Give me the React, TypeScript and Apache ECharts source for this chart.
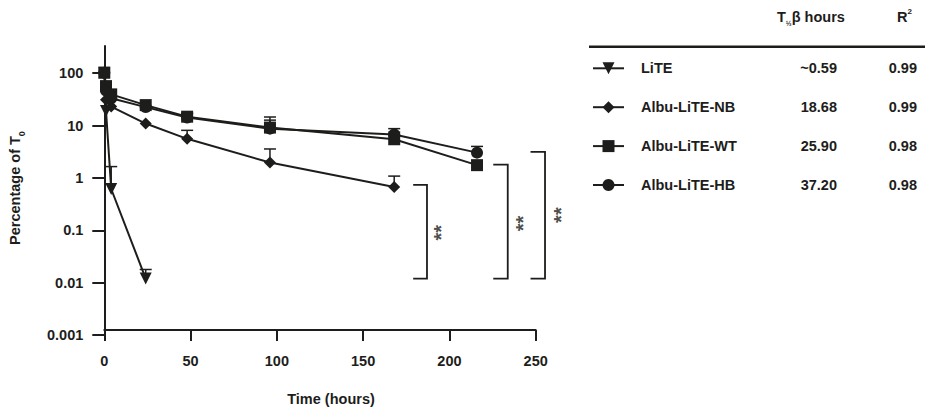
import React, { useEffect, useRef } from 'react';
import * as echarts from 'echarts';

const INK = '#1d1d1b';
const FONT = '"Liberation Sans", Arial, Helvetica, sans-serif';
const FS = 14.5;

// ---- data ----
const seriesNames = ['LiTE', 'Albu-LiTE-NB', 'Albu-LiTE-WT', 'Albu-LiTE-HB'];
const seriesSymbols = ['triangle', 'diamond', 'rect', 'circle'];
const seriesSymbolRotate = [180, 0, 0, 0];

const timeLiTE = [0, 1, 4, 24];
const timeNB = [0, 1, 4, 24, 48, 96, 168];
const timeLong = [0, 1, 4, 24, 48, 96, 168, 216];

const valuesLiTE = [100, 18, 0.55, 0.01];
const valuesNB = [100, 30, 22, 10.3, 5.2, 1.8, 0.6];
const valuesWT = [100, 55, 38, 23.5, 14, 8.6, 5.1, 1.6];
const valuesHB = [100, 45, 32, 21.5, 13.5, 8.2, 6.3, 2.8];

// upper end of error bars (null = none drawn)
const upperLiTE = [null, null, 1.5, 0.015];
const upperNB = [null, null, null, null, 7.6, 3.3, 0.98];
const upperWT = [null, null, null, null, 16, 12, 7, null];
const upperHB = [null, null, null, null, 16.5, 13.8, 8.2, 3.7];

const halfLives = ['~0.59', '18.68', '25.90', '37.20'];
const rSquared = ['0.99', '0.99', '0.98', '0.98'];

const xMin = 0;
const xMax = 250;
const xInterval = 50;
const yMin = 0.001;
const yTickMax = 100;
const yAxisTopExp = 2.52; // axis line runs a little above 100

// significance brackets (hours) and their value span
const bracketX0 = [179, 225.4, 247];
const bracketX1 = [187, 233.8, 255.4];
const bracketTop = [0.66, 1.64, 2.9];
const bracketBottom = [0.01, 0.01, 0.01];
const starX = [195, 242.6, 264.4];
const starY = [0.078, 0.117, 0.171];
const starText = '**';

// ---- layout ----
const GRID_LEFT = 104.3;
const GRID_TOP = 46;
const GRID_BOTTOM_Y = 335;
const GRID_WIDTH = 431.4;
const GRID_HEIGHT = GRID_BOTTOM_Y - GRID_TOP;
const decadePx = GRID_HEIGHT / (yAxisTopExp - Math.log10(yMin));
const tickGridTop = GRID_TOP + (yAxisTopExp - Math.log10(yTickMax)) * decadePx;

const LEG_LEFT = 592;
const LEG_TOP = 60.8;
const LEG_ITEM_H = 15;
const LEG_GAP = 23.9;

function pairs(times: number[], vals: number[]) {
  return times.map((t, i) => [t, vals[i]]);
}
function errData(times: number[], vals: number[], up: (number | null)[]) {
  const out: number[][] = [];
  times.forEach((t, i) => {
    if (up[i] != null) out.push([t, vals[i], up[i] as number]);
  });
  return out;
}

export default function App() {
  const ref = useRef<HTMLDivElement>(null);
  useEffect(() => {
    if (!ref.current) return;
    const chart = echarts.init(ref.current, undefined, { renderer: 'svg' });

    const lineData = [
      pairs(timeLiTE, valuesLiTE),
      pairs(timeNB, valuesNB),
      pairs(timeLong, valuesWT),
      pairs(timeLong, valuesHB),
    ];
    const errs = [
      errData(timeLiTE, valuesLiTE, upperLiTE),
      errData(timeNB, valuesNB, upperNB),
      errData(timeLong, valuesWT, upperWT),
      errData(timeLong, valuesHB, upperHB),
    ];

    const textBase = { fontFamily: FONT, fontWeight: 'bold' as const, fontSize: FS, color: INK };

    const series: any[] = [];
    errs.forEach((d, i) => {
      series.push({
        type: 'custom',
        name: 'err' + i,
        xAxisIndex: 0,
        yAxisIndex: 0,
        z: 1,
        silent: true,
        data: d,
        encode: { x: 0, y: [1, 2] },
        renderItem: (params: any, api: any) => {
          const x = api.value(0);
          const lo = api.value(1);
          const hi = api.value(2);
          const a = api.coord([x, lo]);
          const b = api.coord([x, hi]);
          const style = { stroke: INK, lineWidth: 1.5 };
          return {
            type: 'group',
            children: [
              { type: 'line', shape: { x1: a[0], y1: a[1], x2: b[0], y2: b[1] }, style },
              { type: 'line', shape: { x1: b[0] - 6, y1: b[1], x2: b[0] + 6, y2: b[1] }, style },
            ],
          };
        },
      });
    });
    lineData.forEach((d, i) => {
      series.push({
        type: 'line',
        name: seriesNames[i],
        xAxisIndex: 0,
        yAxisIndex: 0,
        z: 3,
        data: d,
        symbol: seriesSymbols[i],
        symbolSize: 12,
        symbolRotate: seriesSymbolRotate[i],
        showAllSymbol: true,
        lineStyle: { color: INK, width: 2 },
        itemStyle: { color: INK },
        emphasis: { disabled: true },
      });
    });
    series.push({
      type: 'custom',
      name: 'brackets',
      xAxisIndex: 0,
      yAxisIndex: 0,
      clip: false,
      silent: true,
      z: 2,
      data: bracketX0.map((x0, i) => [x0, bracketX1[i], bracketTop[i], bracketBottom[i]]),
      encode: { x: [0, 1], y: [2, 3] },
      renderItem: (params: any, api: any) => {
        const x0 = api.value(0);
        const x1 = api.value(1);
        const top = api.value(2);
        const bot = api.value(3);
        const p = [api.coord([x0, top]), api.coord([x1, top]), api.coord([x1, bot]), api.coord([x0, bot])];
        return {
          type: 'polyline',
          shape: { points: p },
          style: { stroke: INK, lineWidth: 1.8, fill: null },
        };
      },
    });
    series.push({
      type: 'scatter',
      name: 'stars',
      xAxisIndex: 0,
      yAxisIndex: 0,
      clip: false,
      silent: true,
      symbolSize: 1,
      itemStyle: { color: 'rgba(0,0,0,0)' },
      data: starX.map((x, i) => [x, starY[i]]),
      label: {
        show: true,
        position: 'inside',
        formatter: starText,
        rotate: 90,
        fontFamily: FONT,
        fontWeight: 'bold',
        fontSize: 20,
        color: INK,
      },
    });

    const rowY = seriesNames.map((_, i) => LEG_TOP + LEG_ITEM_H / 2 + i * (LEG_ITEM_H + LEG_GAP));
    const graphic: any[] = [
      {
        type: 'text',
        x: 777,
        y: 17.3,
        style: {
          text: '{a|T}{s|½}{a|β hours}',
          verticalAlign: 'middle',
          rich: {
            a: { fontFamily: FONT, fontWeight: 'bold', fontSize: FS, fill: INK, lineHeight: 20 },
            s: { fontFamily: FONT, fontWeight: 'bold', fontSize: 7, fill: INK, verticalAlign: 'bottom' },
          },
        },
      },
      {
        type: 'text',
        x: 897,
        y: 17.3,
        style: {
          text: '{a|R}{p|2}',
          verticalAlign: 'middle',
          rich: {
            a: { fontFamily: FONT, fontWeight: 'bold', fontSize: FS, fill: INK, lineHeight: 20 },
            p: { fontFamily: FONT, fontWeight: 'bold', fontSize: 8, fill: INK, verticalAlign: 'top' },
          },
        },
      },
      {
        type: 'line',
        shape: { x1: 589, y1: 46.7, x2: 925, y2: 46.7 },
        style: { stroke: INK, lineWidth: 2.5 },
      },
    ];
    halfLives.forEach((h, i) => {
      graphic.push({
        type: 'text',
        x: 837,
        y: rowY[i],
        style: { text: h, align: 'right', verticalAlign: 'middle', fontFamily: FONT, fontWeight: 'bold', fontSize: FS, fill: INK },
      });
      graphic.push({
        type: 'text',
        x: 917,
        y: rowY[i],
        style: { text: rSquared[i], align: 'right', verticalAlign: 'middle', fontFamily: FONT, fontWeight: 'bold', fontSize: FS, fill: INK },
      });
    });

    const option: any = {
      animation: false,
      backgroundColor: '#ffffff',
      grid: [
        { left: GRID_LEFT, top: GRID_TOP, width: GRID_WIDTH, height: GRID_HEIGHT },
        { left: GRID_LEFT, top: tickGridTop, width: GRID_WIDTH, height: GRID_BOTTOM_Y - tickGridTop },
      ],
      xAxis: [
        {
          type: 'value',
          gridIndex: 0,
          min: xMin,
          max: xMax,
          interval: xInterval,
          name: 'Time (hours)',
          nameLocation: 'middle',
          nameGap: 61,
          nameTextStyle: { ...textBase, padding: [0, 0, 0, 22] },
          axisLine: { show: true, lineStyle: { color: INK, width: 2 } },
          axisTick: { show: true, length: 11, lineStyle: { color: INK, width: 2 } },
          axisLabel: { ...textBase, margin: 23 },
          splitLine: { show: false },
        },
        {
          type: 'value',
          gridIndex: 1,
          min: xMin,
          max: xMax,
          show: false,
        },
      ],
      yAxis: [
        {
          type: 'log',
          gridIndex: 0,
          min: yMin,
          max: Math.pow(10, yAxisTopExp),
          name: '{a|Percentage of T}{s|0}',
          nameLocation: 'middle',
          nameRotate: 90,
          nameGap: 78,
          nameTextStyle: {
            rich: {
              a: { ...textBase, lineHeight: 22 },
              s: { ...textBase, fontSize: 9, verticalAlign: 'bottom' },
            },
          },
          axisLine: { show: true, lineStyle: { color: INK, width: 2 } },
          axisTick: { show: false },
          axisLabel: { show: false },
          splitLine: { show: false },
        },
        {
          type: 'log',
          gridIndex: 1,
          min: yMin,
          max: yTickMax,
          axisLine: { show: false },
          axisTick: { show: true, length: 12, lineStyle: { color: INK, width: 2 } },
          axisLabel: {
            ...textBase,
            margin: 21,
            formatter: (v: number) => String(Number(v.toPrecision(3))),
          },
          splitLine: { show: false },
        },
      ],
      legend: {
        data: seriesNames,
        orient: 'vertical',
        left: LEG_LEFT,
        top: LEG_TOP,
        padding: 0,
        itemWidth: 31,
        itemHeight: LEG_ITEM_H,
        itemGap: LEG_GAP,
        selectedMode: false,
        textStyle: { ...textBase, padding: [0, 0, 0, 12] },
      },
      graphic,
      series,
    };
    chart.setOption(option);
    return () => chart.dispose();
  }, []);
  return <div ref={ref} style={{ position: 'absolute', left: 0, top: 0, width: 925, height: 411 }} />;
}
